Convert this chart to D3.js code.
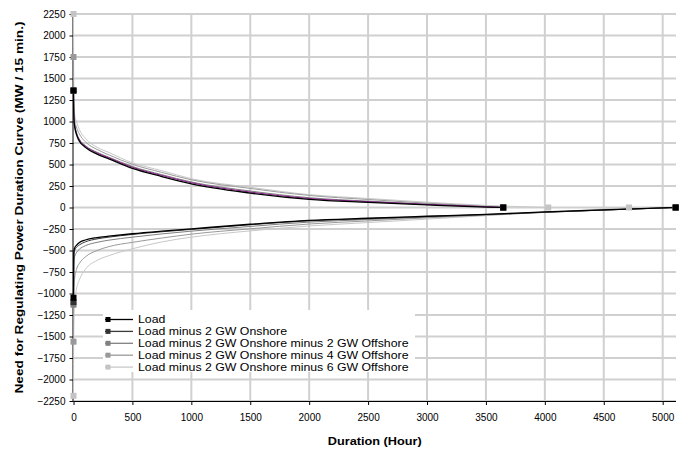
<!DOCTYPE html>
<html>
<head>
<meta charset="utf-8">
<script src="https://cdn.jsdelivr.net/npm/d3@7"></script>
<style>
  html, body { margin: 0; padding: 0; background: #fff; }
  svg { display: block; font-family: Arial, "Liberation Sans", sans-serif; }
</style>
</head>
<body>
<svg id="chart" width="689" height="453"></svg>
<script>
// Regulating power duration curves: surplus (positive) and deficit (negative) branches
const seriesNames = [
  "Load",
  "Load minus 2 GW Onshore",
  "Load minus 2 GW Onshore minus 2 GW Offshore",
  "Load minus 2 GW Onshore minus 4 GW Offshore",
  "Load minus 2 GW Onshore minus 6 GW Offshore"
];

// Hours at which the positive branch is sampled, plus the hour where it reaches zero
const upperHours = [0, 2, 5, 10, 25, 50, 100, 200, 300, 500, 750, 1000, 1500, 2000, 2500, 3000, 3500];
const upperEnd = [3647, 3647, 3647, 3647, 4029];
const upperLoad     = [1360, 1100, 1000, 940, 850, 770, 700, 620, 565, 455, 360, 275, 168, 95, 60, 30, 5];
const upperOnshore  = [1360, 1110, 1012, 955, 865, 785, 714, 634, 578, 468, 373, 288, 180, 105, 68, 36, 9];
const upperOff2     = [1360, 1120, 1025, 965, 875, 795, 722, 642, 585, 477, 382, 297, 192, 114, 74, 39, 10];
const upperOff4     = [1750, 1200, 1085, 1020, 935, 855, 765, 675, 612, 502, 408, 322, 222, 140, 93, 50, 14];
const upperOff6     = [2250, 1300, 1150, 1080, 1000, 905, 805, 700, 640, 520, 428, 335, 235, 150, 105, 62, 25];

// Hours at which the negative branch is sampled, plus the hour where it reaches zero
const lowerHours = [0, 2, 5, 10, 25, 50, 100, 200, 300, 500, 750, 1000, 1500, 2000, 2500, 3000, 3500, 4000, 4500];
const lowerEnd = [5110, 5110, 5110, 5110, 4714];
const lowerLoad     = [-1050, -540, -495, -470, -440, -408, -378, -350, -334, -305, -275, -248, -195, -150, -125, -102, -80, -52, -28];
const lowerOnshore  = [-1100, -590, -530, -500, -465, -435, -400, -365, -345, -313, -282, -255, -200, -155, -129, -105, -82, -55, -30];
const lowerOff2     = [-1130, -700, -610, -570, -525, -485, -445, -405, -380, -345, -307, -275, -220, -170, -140, -112, -85, -56, -29];
const lowerOff4     = [-1560, -1050, -900, -820, -720, -650, -575, -500, -455, -405, -355, -310, -248, -192, -156, -120, -88, -57, -29];
const lowerOff6     = [-2190, -1450, -1200, -1100, -950, -840, -720, -615, -560, -480, -400, -345, -272, -215, -175, -135, -95, -55, -17];

const xTicks = [0, 500, 1000, 1500, 2000, 2500, 3000, 3500, 4000, 4500, 5000];
const yTicks = d3.range(-2250, 2251, 250);

const upperValues = [upperLoad, upperOnshore, upperOff2, upperOff4, upperOff6];
const lowerValues = [lowerLoad, lowerOnshore, lowerOff2, lowerOff4, lowerOff6];

const lineColors   = ["#000000", "#3a3a3a", "#808080", "#9a9a9a", "#c8c8c8"];
const upperColors  = ["#000000", "#8a1a8a", "#808080", "#9a9a9a", "#c8c8c8"];
const markerColors = ["#000000", "#333333", "#808080", "#999999", "#c4c4c4"];

const svg = d3.select("#chart");
const plot = { left: 73.5, right: 676, top: 14, bottom: 401 };

const x = d3.scaleLinear().domain([0, 5113]).range([plot.left, plot.right]);
const y = d3.scaleLinear().domain([-2250, 2250]).range([plot.bottom, plot.top]);

// Gridlines
const grid = svg.append("g");
grid.selectAll("line.h").data(yTicks).join("line")
  .attr("x1", plot.left).attr("x2", plot.right)
  .attr("y1", d => y(d)).attr("y2", d => y(d))
  .attr("stroke", "#d0d0d0").attr("stroke-width", 2);
grid.selectAll("line.v").data(xTicks.filter(d => d > 0)).join("line")
  .attr("x1", d => x(d)).attr("x2", d => x(d))
  .attr("y1", plot.top).attr("y2", plot.bottom)
  .attr("stroke", "#d0d0d0").attr("stroke-width", 2);

// Axes
const yAxis = d3.axisLeft(y).tickValues(yTicks).tickSize(4).tickPadding(4).tickFormat(d3.format("d"));
const yg = svg.append("g").attr("transform", `translate(${plot.left},0)`).call(yAxis);
yg.select(".domain").attr("stroke", "#000").attr("d", `M-0.5,${plot.top}V${plot.bottom}`);
yg.selectAll(".tick line").attr("stroke", "#000");
yg.selectAll(".tick text").attr("font-size", 10).attr("fill", "#000")
  .attr("font-family", "Arial, 'Liberation Sans', sans-serif");

const xAxis = d3.axisBottom(x).tickValues(xTicks).tickSize(4).tickPadding(9).tickFormat(d3.format("d"));
const xg = svg.append("g").attr("transform", `translate(0,${plot.bottom})`).call(xAxis);
xg.select(".domain").attr("stroke", "#000").attr("d", `M${plot.left},0.5H${plot.right}`);
xg.selectAll(".tick line").attr("stroke", "#000");
xg.selectAll(".tick text").attr("font-size", 10).attr("fill", "#000")
  .attr("font-family", "Arial, 'Liberation Sans', sans-serif");

// Axis titles
svg.append("text")
  .attr("x", (plot.left + plot.right) / 2).attr("y", 445)
  .attr("text-anchor", "middle").attr("font-size", 11.5).attr("font-weight", "bold")
  .attr("textLength", 94).attr("lengthAdjust", "spacingAndGlyphs")
  .text("Duration (Hour)");
svg.append("text")
  .attr("transform", `translate(22.5,${(plot.top + plot.bottom) / 2}) rotate(-90)`)
  .attr("text-anchor", "middle").attr("font-size", 11.5).attr("font-weight", "bold")
  .attr("textLength", 372).attr("lengthAdjust", "spacingAndGlyphs")
  .text("Need for Regulating Power Duration Curve (MW / 15 min.)");

// Curves
const line = d3.line().x(d => x(d[0])).y(d => y(d[1])).curve(d3.curveMonotoneX);
const curves = svg.append("g");
const markers = svg.append("g");

function branch(hours, values, endHour) {
  const pts = hours.map((h, i) => [h, values[i]]).filter(p => p[0] < endHour);
  pts.push([endHour, 0]);
  return pts;
}

// Heavier offshore cases underneath, plain load on top
for (let i = seriesNames.length - 1; i >= 0; i--) {
  const up = branch(upperHours, upperValues[i], upperEnd[i]);
  const lo = branch(lowerHours, lowerValues[i], lowerEnd[i]);
  curves.append("path").datum(up).attr("d", line)
    .attr("fill", "none").attr("stroke", upperColors[i]).attr("stroke-width", i === 0 ? 1.3 : 1);
  curves.append("path").datum(lo).attr("d", line)
    .attr("fill", "none").attr("stroke", lineColors[i]).attr("stroke-width", i === 0 ? 1.3 : 1);
  const ends = [up[0], up[up.length - 1], lo[0], lo[lo.length - 1]];
  markers.selectAll(null).data(ends).join("rect")
    .attr("x", d => x(d[0]) - 3).attr("y", d => y(d[1]) - 3)
    .attr("width", 6).attr("height", 6)
    .attr("fill", markerColors[i]);
}

// Legend: compact rows, text widened to the legend's natural width
const legend = svg.append("g");
legend.append("rect").attr("x", 103).attr("y", 310).attr("width", 312).attr("height", 62).attr("fill", "#fff");
seriesNames.forEach((name, i) => {
  const ly = 319.5 + i * 11.9;
  legend.append("line").attr("x1", 105).attr("x2", 133).attr("y1", ly).attr("y2", ly)
    .attr("stroke", lineColors[i]).attr("stroke-width", 1.3);
  legend.append("rect").attr("x", 105.5).attr("y", ly - 2.5).attr("width", 5).attr("height", 5)
    .attr("fill", markerColors[i]);
  const t = legend.append("text").attr("x", 138).attr("y", ly + 3.8)
    .attr("font-size", 10.5).attr("fill", "#000").text(name);
  const natural = t.node().getComputedTextLength();
  t.attr("textLength", natural * 12.3 / 10.5).attr("lengthAdjust", "spacingAndGlyphs");
});
</script>
</body>
</html>
